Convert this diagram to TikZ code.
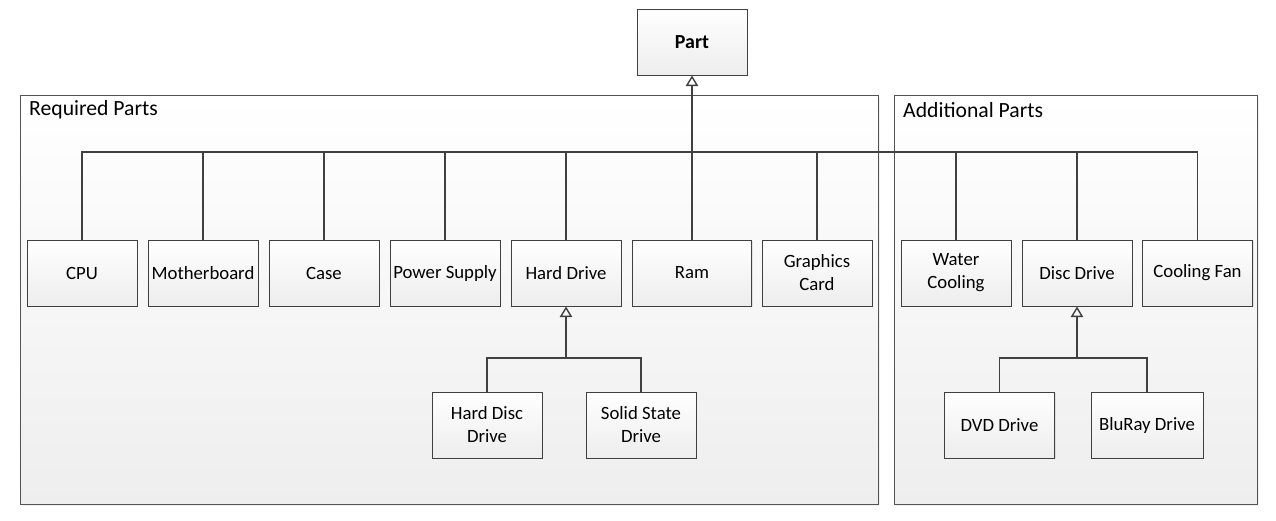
\documentclass[tikz,border=0pt]{standalone}
\usepackage{fontspec}
\setmainfont{Carlito}
\usetikzlibrary{arrows.meta,shadows}
\definecolor{edge}{HTML}{404040}
\definecolor{boxlow}{HTML}{EDEDED}
\definecolor{grouplow}{HTML}{EEEEEE}
\tikzset{
  part/.style={draw=edge, line width=0.8pt, top color=white, bottom color=boxlow,
    minimum width=3.3cm, minimum height=1.98cm, align=center, inner sep=2pt,
    font=\fontsize{16}{19.6}\selectfont,
    drop shadow={opacity=0.18, shadow xshift=1.2pt, shadow yshift=-1.2pt}},
  group/.style={draw=edge!90, line width=0.7pt, top color=white, bottom color=grouplow,
    drop shadow={opacity=0.12, shadow xshift=1.5pt, shadow yshift=-1.5pt}},
  grouptitle/.style={anchor=west, inner sep=0pt, font=\fontsize{18.5}{21}\selectfont},
  link/.style={draw=edge, line width=1.5pt},
  inherit/.style={link, -{Triangle[open, length=9pt, width=10.5pt, line width=1.2pt]}}
}
\begin{document}
\begin{tikzpicture}[x=0.03cm, y=-0.03cm]
\useasboundingbox (0,0) rectangle (1276,520);

% groups
\draw[group] (20,95) rectangle (878,504);
\draw[group] (894,95) rectangle (1257,504);
\node[grouptitle] (reqtitle) at (29,110) {Required Parts};
\node[grouptitle] (addtitle) at (903,110) {Additional Parts};

% top
\node[part, font=\fontsize{17}{19.6}\selectfont\bfseries] (part) at (692,42) {Part};

% required parts
\node[part] (cpu) at (82,273) {CPU};
\node[part] (board) at (203,273) {Motherboard};
\node[part] (case) at (324,273) {Case};
\node[part] (power) at (445,273) {Power Supply};
\node[part] (hard) at (566,273) {Hard Drive};
\node[part, minimum width=3.57cm] (ram) at (692,273) {Ram};
\node[part] (gfx) at (817,273) {Graphics\\Card};

\node[part] (hdd) at (487,425) {Hard Disc\\Drive};
\node[part] (ssd) at (641,425) {Solid State\\Drive};

% additional parts
\node[part] (water) at (956,273) {Water\\Cooling};
\node[part] (disc) at (1077,273) {Disc Drive};
\node[part] (fan) at (1197.5,273) {Cooling Fan};

\node[part] (dvd) at (999.5,425) {DVD Drive};
\node[part, minimum width=3.36cm] (bluray) at (1147,425) {BluRay Drive};

% connectors
\coordinate (bus) at (692,152);
\foreach \n in {cpu,board,case,power,hard,ram,gfx,water,disc,fan}
  \draw[link] (\n.north) |- (bus);
\draw[inherit] (bus) -- (part.south);

\coordinate (hdbus) at (566,358);
\draw[link] (hdd.north) |- (hdbus);
\draw[link] (ssd.north) |- (hdbus);
\draw[inherit] (hdbus) -- (hard.south);

\coordinate (discbus) at (1077,358);
\draw[link] (dvd.north) |- (discbus);
\draw[link] (bluray.north) |- (discbus);
\draw[inherit] (discbus) -- (disc.south);
\end{tikzpicture}
\end{document}
